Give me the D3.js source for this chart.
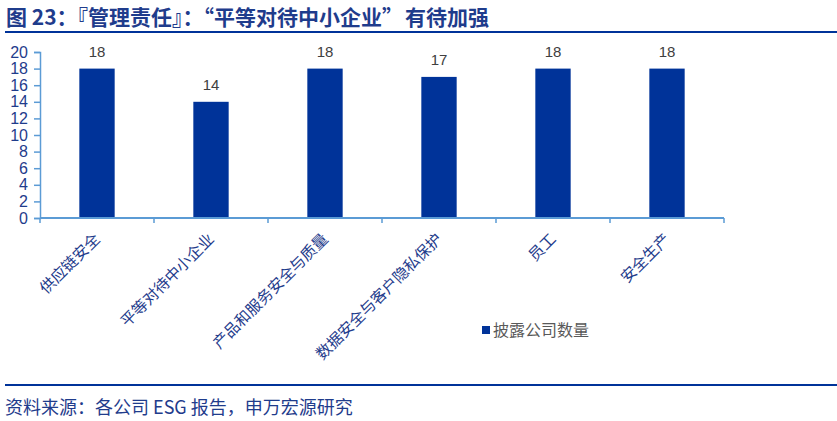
<!DOCTYPE html>
<html>
<head>
<meta charset="utf-8">
<script src="https://cdn.jsdelivr.net/npm/d3@7"></script>
<style>
  body { margin: 0; background: #fff; }
  svg { font-family: "Noto Sans CJK SC", "Liberation Sans", sans-serif; }
</style>
</head>
<body>
<div id="chart"></div>
<script>
const categories = ["供应链安全", "平等对待中小企业", "产品和服务安全与质量", "数据安全与客户隐私保护", "员工", "安全生产"];
const counts = [18, 14, 18, 17, 18, 18];
const yTicks = [0, 2, 4, 6, 8, 10, 12, 14, 16, 18, 20];
const seriesName = "披露公司数量";
const titleParts = ["图 23：『管理责任』：“平等对待中小企业”", "有待加强"];
const sourceText = "资料来源：各公司 ESG 报告，申万宏源研究";

const width = 837;
const height = 421;
const navy = "#1f3c8c";
const barColor = "#003399";
const axisColor = "#5b9bd5";

const svg = d3.select("#chart")
    .append("svg")
    .attr("width", width)
    .attr("height", height);

// title + rule
const title = svg.append("text")
    .attr("x", 6)
    .attr("y", 25)
    .style("font-size", "21px")
    .style("font-weight", "bold")
    .style("fill", navy);
title.append("tspan").text(titleParts[0]);
title.append("tspan").attr("dx", 2).text(titleParts[1]);

svg.append("line")
    .attr("x1", 5).attr("x2", width)
    .attr("y1", 32).attr("y2", 32)
    .style("stroke", barColor)
    .style("stroke-width", 2);

const x = d3.scaleBand()
    .domain(categories)
    .range([40, 724])
    .paddingInner(0.69)
    .paddingOuter(0.345);

const y = d3.scaleLinear()
    .domain([0, 20])
    .range([218, 52]);

// y axis
const yAxis = svg.append("g")
    .attr("transform", "translate(40,0)")
    .call(d3.axisLeft(y).tickValues(yTicks).tickSize(6).tickSizeOuter(6).tickPadding(6));
yAxis.selectAll("path, line").style("stroke", axisColor).style("stroke-width", 1.5);
yAxis.selectAll("text")
    .style("font-family", "'Liberation Sans', Arial, sans-serif")
    .style("font-size", "16px")
    .style("fill", navy);

// bars
svg.selectAll(".bar")
    .data(counts)
    .enter()
    .append("rect")
    .attr("class", "bar")
    .attr("x", (d, i) => x(categories[i]))
    .attr("y", (d) => y(d))
    .attr("width", x.bandwidth())
    .attr("height", (d) => y(0) - y(d))
    .style("fill", barColor);

// value labels
svg.selectAll(".val")
    .data(counts)
    .enter()
    .append("text")
    .attr("class", "val")
    .attr("x", (d, i) => x(categories[i]) + x.bandwidth() / 2)
    .attr("y", (d) => y(d) - 12)
    .attr("text-anchor", "middle")
    .style("font-family", "'Liberation Sans', Arial, sans-serif")
    .style("font-size", "15px")
    .style("fill", "#404040")
    .text((d) => d);

// x axis, ticks on band edges
const xAxisG = svg.append("g").attr("transform", `translate(0,${y(0)})`);
xAxisG.append("line")
    .attr("x1", 40).attr("x2", 724)
    .attr("y1", 0).attr("y2", 0)
    .style("stroke", axisColor)
    .style("stroke-width", 2);
const edges = categories.map((c) => x(c) - x.step() * x.paddingInner() / 2);
edges.push(724);
xAxisG.selectAll(".xt")
    .data(edges)
    .enter()
    .append("line")
    .attr("x1", (d) => d).attr("x2", (d) => d)
    .attr("y1", 0).attr("y2", 5)
    .style("stroke", axisColor)
    .style("stroke-width", 1.5);

xAxisG.selectAll(".xl")
    .data(categories)
    .enter()
    .append("text")
    .attr("transform", (d) => `translate(${x(d) + x.bandwidth() / 2 + 4},${22}) rotate(-45)`)
    .attr("text-anchor", "end")
    .style("font-size", "15.5px")
    .style("fill", navy)
    .text((d) => d);

// legend
const legend = svg.append("g").attr("transform", "translate(482,330)");
legend.append("rect")
    .attr("x", 0).attr("y", -4)
    .attr("width", 8).attr("height", 8)
    .style("fill", barColor);
legend.append("text")
    .attr("x", 11)
    .attr("y", 6)
    .style("font-size", "16px")
    .style("fill", "#595959")
    .text(seriesName);

// bottom rule + source
svg.append("line")
    .attr("x1", 5).attr("x2", width)
    .attr("y1", 385).attr("y2", 385)
    .style("stroke", barColor)
    .style("stroke-width", 2);

svg.append("text")
    .attr("x", 5)
    .attr("y", 414)
    .style("font-size", "18px")
    .style("fill", navy)
    .text(sourceText);
</script>
</body>
</html>
